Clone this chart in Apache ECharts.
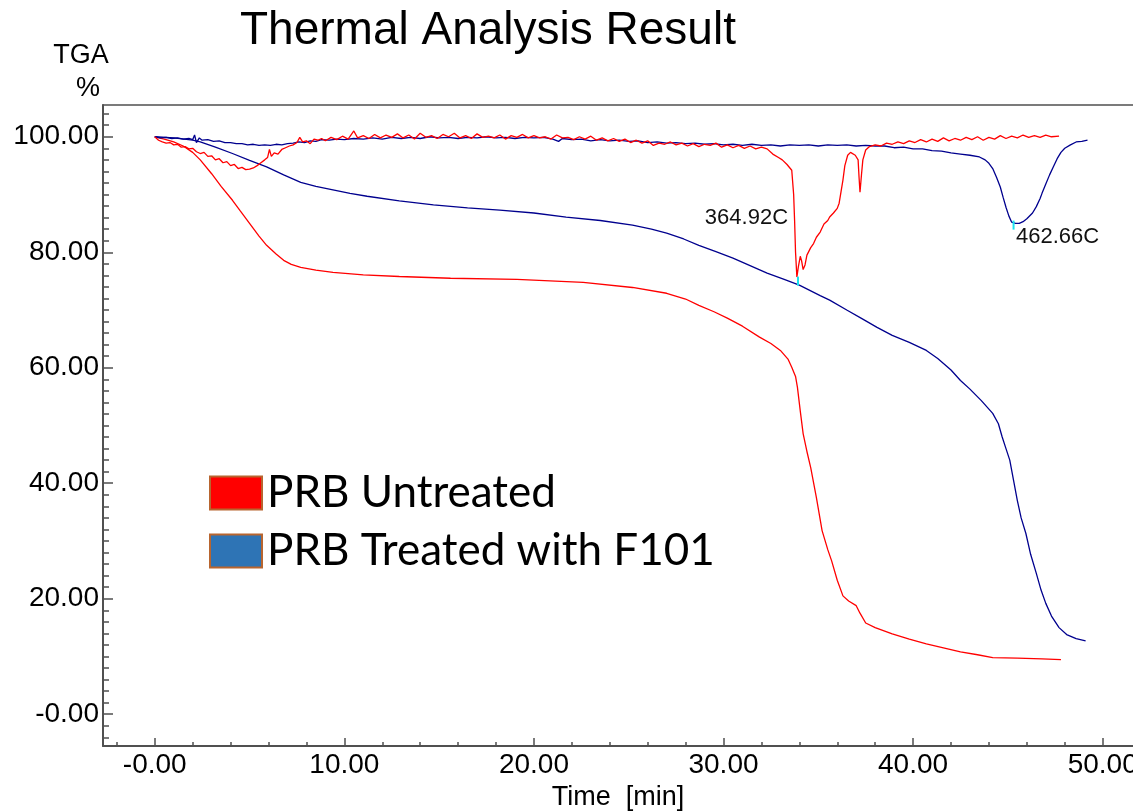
<!DOCTYPE html>
<html>
<head>
<meta charset="utf-8">
<script src="https://cdn.jsdelivr.net/npm/echarts@6/dist/echarts.min.js"></script>
<style>html,body{margin:0;padding:0;background:#fff;}#c{width:1133px;height:812px;}</style>
</head>
<body>
<div id="c"></div>
<script>
// ---- data (time in min, TGA %) ----
const seriesNames = ['PRB Untreated', 'PRB Treated with F101'];
const xMajorTicks = [0, 10, 20, 30, 40, 50];
const xMinorTicks = [-2, 2, 4, 6, 8, 12, 14, 16, 18, 22, 24, 26, 28, 32, 34, 36, 38, 42, 44, 46, 48];
const yMajorTicks = [0, 20, 40, 60, 80, 100];
const yMinorTicks = [-4, -2, 2, 4, 6, 8, 10, 12, 14, 16, 18, 22, 24, 26, 28, 30, 32, 34, 36, 38, 42, 44, 46, 48, 50, 52, 54, 56, 58, 62, 64, 66, 68, 70, 72, 74, 76, 78, 82, 84, 86, 88, 90, 92, 94, 96, 98, 102, 104];

const redTGA = [[0,100],[0.5,99.6],[1.0,99.1],[1.5,98.4],[2.0,97.3],[2.4,96.0],[3.0,93.6],[3.5,91.4],[4.1,89.0],[4.5,87.2],[5.0,85.0],[5.5,82.8],[5.9,81.2],[6.4,79.7],[6.8,78.6],[7.2,77.9],[7.7,77.4],[8.5,76.9],[9.4,76.5],[11.0,76.1],[12.9,75.8],[15.6,75.5],[19.1,75.3],[22.6,74.8],[25.2,73.9],[27.0,72.9],[28.0,71.9],[28.7,70.8],[29.5,69.7],[30.2,68.6],[31.0,67.2],[31.9,65.3],[32.5,64.2],[33.0,63.0],[33.4,61.5],[33.6,60.1],[33.8,58.5],[33.9,56.6],[34.05,52.5],[34.2,48.6],[34.4,45.5],[34.6,42.7],[34.9,37.5],[35.2,31.8],[35.5,28.5],[35.7,26.6],[36.0,23.2],[36.3,20.5],[36.6,19.6],[37.0,18.8],[37.2,17.5],[37.5,15.8],[38.0,15.0],[38.9,13.9],[39.8,13.0],[40.7,12.2],[41.6,11.5],[42.5,10.8],[43.4,10.3],[44.2,9.8],[45.5,9.7],[46.8,9.6],[47.8,9.45]];

const blueTGA = [[0,100],[1.0,99.8],[2.0,99.4],[2.4,99.1],[3.2,98.2],[4.1,97.1],[5.0,95.9],[5.9,94.8],[6.8,93.4],[7.7,92.1],[8.5,91.4],[9.4,90.8],[10.3,90.2],[11.2,89.7],[12.9,88.9],[14.7,88.2],[16.5,87.7],[18.2,87.3],[20.0,86.8],[21.7,86.1],[23.5,85.5],[25.2,84.7],[26.2,84.0],[27.0,83.3],[27.9,82.3],[28.7,81.2],[29.6,80.1],[30.5,79.0],[31.4,77.7],[32.3,76.4],[33.2,75.3],[34.0,74.3],[35.1,72.5],[35.6,71.7],[36.5,70.0],[37.3,68.5],[38.1,67.0],[38.9,65.6],[39.8,64.4],[40.7,63.0],[41.3,61.6],[42.0,59.6],[42.5,57.8],[43.0,56.3],[43.6,54.3],[44.2,52.1],[44.5,50.3],[44.7,48.0],[44.9,46.0],[45.1,44.0],[45.3,40.5],[45.5,37.0],[45.7,34.0],[45.95,31.3],[46.2,27.7],[46.5,24.4],[46.75,21.5],[47.0,19.2],[47.3,17.0],[47.7,15.0],[48.1,13.8],[48.6,13.1],[49.1,12.7]];

const redDTG = [[0,100],[0.2,99.4],[0.4,99.1],[0.6,98.9],[0.8,99.0],[1.0,98.6],[1.2,98.7],[1.4,98.2],[1.6,98.3],[1.8,97.9],[2.0,98.0],[2.2,97.4],[2.4,97.1],[2.6,97.3],[2.8,96.6],[3.0,96.7],[3.2,96.0],[3.4,96.2],[3.6,95.5],[3.8,95.7],[4.0,95.0],[4.2,95.2],[4.4,94.5],[4.6,94.7],[4.8,94.3],[5.0,94.4],[5.2,94.6],[5.4,95.0],[5.6,95.5],[5.8,96.0],[5.95,96.4],[6.05,97.8],[6.15,96.6],[6.3,97.2],[6.5,97.0],[6.7,97.8],[6.9,98.1],[7.1,98.4],[7.3,98.6],[7.5,99.0],[7.65,99.9],[7.8,99.1],[8.0,99.3],[8.2,98.8],[8.4,99.6],[8.6,99.4],[8.8,99.7],[9.0,99.3],[9.3,99.9],[9.6,99.5],[9.9,100.1],[10.2,99.6],[10.5,101.0],[10.7,99.8],[11.0,100.2],[11.3,99.7],[11.6,100.4],[11.9,99.8],[12.2,100.3],[12.5,99.9],[12.8,100.5],[13.1,99.8],[13.4,100.3],[13.7,99.6],[14.0,100.6],[14.3,99.9],[14.6,100.2],[14.9,99.7],[15.2,100.4],[15.5,100.0],[15.8,100.6],[16.1,99.8],[16.4,100.2],[16.7,99.7],[17.0,100.5],[17.3,99.9],[17.6,100.1],[17.9,99.8],[18.2,100.3],[18.5,99.6],[18.8,100.2],[19.1,99.9],[19.4,100.4],[19.7,99.8],[20.0,100.2],[20.3,99.8],[20.6,100.0],[20.9,99.6],[21.2,100.3],[21.5,99.8],[21.8,99.9],[22.1,99.5],[22.4,100.0],[22.7,99.6],[23.0,100.1],[23.3,99.4],[23.6,99.8],[23.9,99.3],[24.2,99.7],[24.5,99.2],[24.8,99.6],[25.1,99.0],[25.4,99.4],[25.7,98.9],[26.0,99.3],[26.3,98.5],[26.6,98.9],[26.9,98.7],[27.2,99.1],[27.5,98.6],[27.8,98.9],[28.1,98.4],[28.4,98.8],[28.7,98.3],[29.0,98.7],[29.3,98.5],[29.6,98.9],[29.9,98.2],[30.2,98.6],[30.5,98.1],[30.8,98.5],[31.1,98.0],[31.4,98.4],[31.7,97.9],[32.0,98.2],[32.3,97.9],[32.6,97.0],[32.9,96.4],[33.1,96.0],[33.35,95.2],[33.6,94.2],[33.7,90.0],[33.75,85.5],[33.8,80.0],[33.87,75.7],[33.95,77.5],[34.05,79.3],[34.12,78.5],[34.2,77.0],[34.3,77.8],[34.4,79.5],[34.5,79.8],[34.6,80.8],[34.75,81.5],[34.9,82.6],[35.1,83.5],[35.3,84.9],[35.5,85.5],[35.6,86.1],[35.8,86.8],[36.0,87.6],[36.1,88.5],[36.2,90.5],[36.3,92.5],[36.4,95.0],[36.55,96.8],[36.7,97.3],[36.8,97.1],[36.95,96.8],[37.1,96.0],[37.15,93.0],[37.2,90.4],[37.28,93.5],[37.35,96.0],[37.5,97.7],[37.7,98.3],[38.0,98.6],[38.3,98.4],[38.6,98.9],[38.9,98.7],[39.2,99.1],[39.5,98.8],[39.8,99.3],[40.1,99.0],[40.4,99.5],[40.7,99.1],[41.0,99.6],[41.3,99.2],[41.6,99.8],[41.9,99.3],[42.2,99.7],[42.5,99.4],[42.8,99.9],[43.1,99.5],[43.4,100.0],[43.7,99.4],[44.0,99.9],[44.3,99.6],[44.6,100.2],[44.9,99.7],[45.2,100.1],[45.5,99.8],[45.8,100.3],[46.1,99.9],[46.4,100.2],[46.7,99.9],[47.0,100.3],[47.3,100.0],[47.7,100.1]];

const blueDTG = [[0,100],[0.3,99.8],[0.6,99.9],[0.9,99.7],[1.2,99.8],[1.5,99.6],[1.8,99.7],[2.0,99.5],[2.1,100.3],[2.2,99.0],[2.35,99.8],[2.5,99.4],[2.8,99.5],[3.1,99.2],[3.4,99.3],[3.7,99.0],[4.0,99.0],[4.3,98.8],[4.6,98.8],[4.9,98.6],[5.2,98.7],[5.5,98.5],[5.8,98.6],[6.1,98.5],[6.4,98.7],[6.7,98.6],[7.0,98.8],[7.3,98.9],[7.6,99.1],[7.9,99.0],[8.2,99.3],[8.5,99.2],[8.8,99.5],[9.2,99.4],[9.6,99.6],[10.0,99.5],[10.5,99.7],[11.0,99.6],[11.5,99.8],[12.0,99.6],[12.5,99.9],[13.0,99.7],[13.5,99.9],[14.0,99.7],[14.5,100.0],[15.0,99.8],[15.5,99.9],[16.0,99.7],[16.5,99.9],[17.0,99.8],[17.5,100.0],[18.0,99.8],[18.5,99.9],[19.0,99.7],[19.5,99.9],[20.0,99.8],[20.5,99.9],[21.0,99.6],[21.3,99.2],[21.5,99.7],[22.0,99.5],[22.5,99.6],[23.0,99.3],[23.5,99.5],[24.0,99.3],[24.5,99.4],[25.0,99.2],[25.5,99.3],[26.0,99.0],[26.5,99.1],[27.0,98.9],[27.5,99.0],[28.0,98.8],[28.5,98.9],[29.0,98.7],[29.5,98.8],[30.0,98.6],[30.5,98.7],[31.0,98.5],[31.5,98.7],[32.0,98.5],[32.5,98.6],[33.0,98.4],[33.5,98.6],[34.0,98.5],[34.5,98.6],[35.0,98.4],[35.5,98.6],[36.0,98.5],[36.5,98.6],[37.0,98.4],[37.5,98.5],[38.0,98.4],[38.5,98.4],[39.0,98.1],[39.5,98.2],[40.0,97.9],[40.5,97.9],[41.0,97.6],[41.5,97.5],[42.0,97.2],[42.5,97.0],[43.0,96.8],[43.5,96.5],[43.8,96.0],[44.0,95.4],[44.2,94.5],[44.4,93.0],[44.6,91.3],[44.75,89.5],[44.9,87.8],[45.05,86.3],[45.2,85.2],[45.4,85.0],[45.6,85.0],[45.8,85.3],[46.0,85.8],[46.3,86.8],[46.5,87.9],[46.7,89.3],[46.8,90.2],[47.0,91.8],[47.2,93.4],[47.4,94.8],[47.6,96.2],[47.8,97.3],[48.0,98.0],[48.3,98.6],[48.6,99.1],[48.9,99.2],[49.2,99.4]];

// peak annotations: peak marker [time, value]; label [text, time, value]
const redPeak = [33.93, 75.0];
const redPeakLabel = ['364.92C', 31.21, 85.9];
const bluePeak = [45.3, 84.7];
const bluePeakLabel = ['462.66C', 47.62, 82.7];

const X_MIN = -2.73, X_MAX = 51.6, Y_MIN = -5.5, Y_MAX = 105.5;
// ---------------------------------

const RED = '#FF0000', NAVY = '#00008E', AXIS = '#505050', CYAN = '#19E3F0';
const AF = 'Arial, "Liberation Sans", sans-serif';
const fmt = v => (v === 0 ? '-0.00' : v.toFixed(2));

const chart = echarts.init(document.getElementById('c'), null, {renderer: 'canvas'});

function peakMarks(peak, lab) {
  return {
    silent: true,
    animation: false,
    data: [
      {coord: peak, symbol: 'rect', symbolSize: [2, 9], itemStyle: {color: CYAN}, label: {show: false}},
      {coord: [lab[1], lab[2]], symbol: 'rect', symbolSize: 0,
       label: {show: true, position: 'inside', formatter: lab[0], color: '#111', fontSize: 22, fontFamily: AF}}
    ]
  };
}

const lineBase = {type: 'line', showSymbol: false, symbol: 'none', animation: false, silent: true, smooth: false};

chart.setOption({
  backgroundColor: '#fff',
  animation: false,
  title: {
    text: 'Thermal Analysis Result', left: 240, top: 8, padding: 0,
    textStyle: {fontFamily: AF, fontSize: 46, fontWeight: 'normal', color: '#000'}
  },
  graphic: [
    {type: 'text', style: {text: 'TGA', x: 81, y: 56, fontFamily: AF, fontSize: 27, fill: '#000', align: 'center', verticalAlign: 'middle'}},
    {type: 'text', style: {text: '%', x: 88, y: 89, fontFamily: AF, fontSize: 27, fill: '#000', align: 'center', verticalAlign: 'middle'}}
  ],
  legend: {
    orient: 'vertical', left: 209, top: 468, itemWidth: 52, itemHeight: 33, itemGap: 8,
    selectedMode: false, padding: 0,
    textStyle: {fontFamily: 'Lato', fontSize: 44, lineHeight: 50, color: '#000'},
    data: [
      {name: seriesNames[0], icon: 'rect', itemStyle: {color: '#FF0000', borderColor: '#B8652F', borderWidth: 2}},
      {name: seriesNames[1], icon: 'rect', itemStyle: {color: '#2E74B5', borderColor: '#B8652F', borderWidth: 2}}
    ]
  },
  grid: {left: 103, top: 105, right: 0, bottom: 66, containLabel: false, outerBoundsMode: 'none'},
  xAxis: [
    {
      type: 'value', min: X_MIN, max: X_MAX, position: 'bottom',
      axisLine: {show: true, onZero: false, lineStyle: {color: AXIS, width: 2}},
      axisTick: {show: true, inside: true, length: 8, customValues: xMajorTicks, lineStyle: {color: AXIS, width: 1.5}},
      axisLabel: {show: true, customValues: xMajorTicks, formatter: fmt, margin: 5, fontFamily: AF, fontSize: 28, color: '#000'},
      splitLine: {show: false},
      name: 'Time  [min]', nameLocation: 'middle', nameGap: 28,
      nameTextStyle: {fontFamily: AF, fontSize: 27, color: '#000'}
    },
    {
      type: 'value', min: X_MIN, max: X_MAX, position: 'bottom',
      axisLine: {show: false, onZero: false},
      axisTick: {show: true, inside: true, length: 4, customValues: xMinorTicks, lineStyle: {color: AXIS, width: 1.5}},
      axisLabel: {show: false}, splitLine: {show: false}
    },
    {
      type: 'value', min: X_MIN, max: X_MAX, position: 'top',
      axisLine: {show: true, onZero: false, lineStyle: {color: AXIS, width: 1.5}},
      axisTick: {show: false}, axisLabel: {show: false}, splitLine: {show: false}
    }
  ],
  yAxis: [
    {
      type: 'value', min: Y_MIN, max: Y_MAX, position: 'left',
      axisLine: {show: true, onZero: false, lineStyle: {color: AXIS, width: 2}},
      axisTick: {show: true, inside: true, length: 10, customValues: yMajorTicks, lineStyle: {color: AXIS, width: 1.5}},
      axisLabel: {show: true, customValues: yMajorTicks, formatter: fmt, margin: 4, fontFamily: AF, fontSize: 28, color: '#000'},
      splitLine: {show: false}
    },
    {
      type: 'value', min: Y_MIN, max: Y_MAX, position: 'left', offset: 0,
      axisLine: {show: false, onZero: false},
      axisTick: {show: true, inside: true, length: 6, customValues: yMinorTicks, lineStyle: {color: AXIS, width: 1.5}},
      axisLabel: {show: false}, splitLine: {show: false}
    }
  ],
  series: [
    Object.assign({}, lineBase, {name: seriesNames[0], data: redTGA, color: RED, lineStyle: {color: RED, width: 1.3}, z: 3}),
    Object.assign({}, lineBase, {name: seriesNames[1], data: blueTGA, color: NAVY, lineStyle: {color: NAVY, width: 1.3}, z: 3}),
    Object.assign({}, lineBase, {name: seriesNames[0] + ' DTG', data: redDTG, color: RED, lineStyle: {color: RED, width: 1.3}, z: 4,
      markPoint: peakMarks(redPeak, redPeakLabel)}),
    Object.assign({}, lineBase, {name: seriesNames[1] + ' DTG', data: blueDTG, color: NAVY, lineStyle: {color: NAVY, width: 1.3}, z: 3,
      markPoint: peakMarks(bluePeak, bluePeakLabel)})
  ]
});
</script>
</body>
</html>
